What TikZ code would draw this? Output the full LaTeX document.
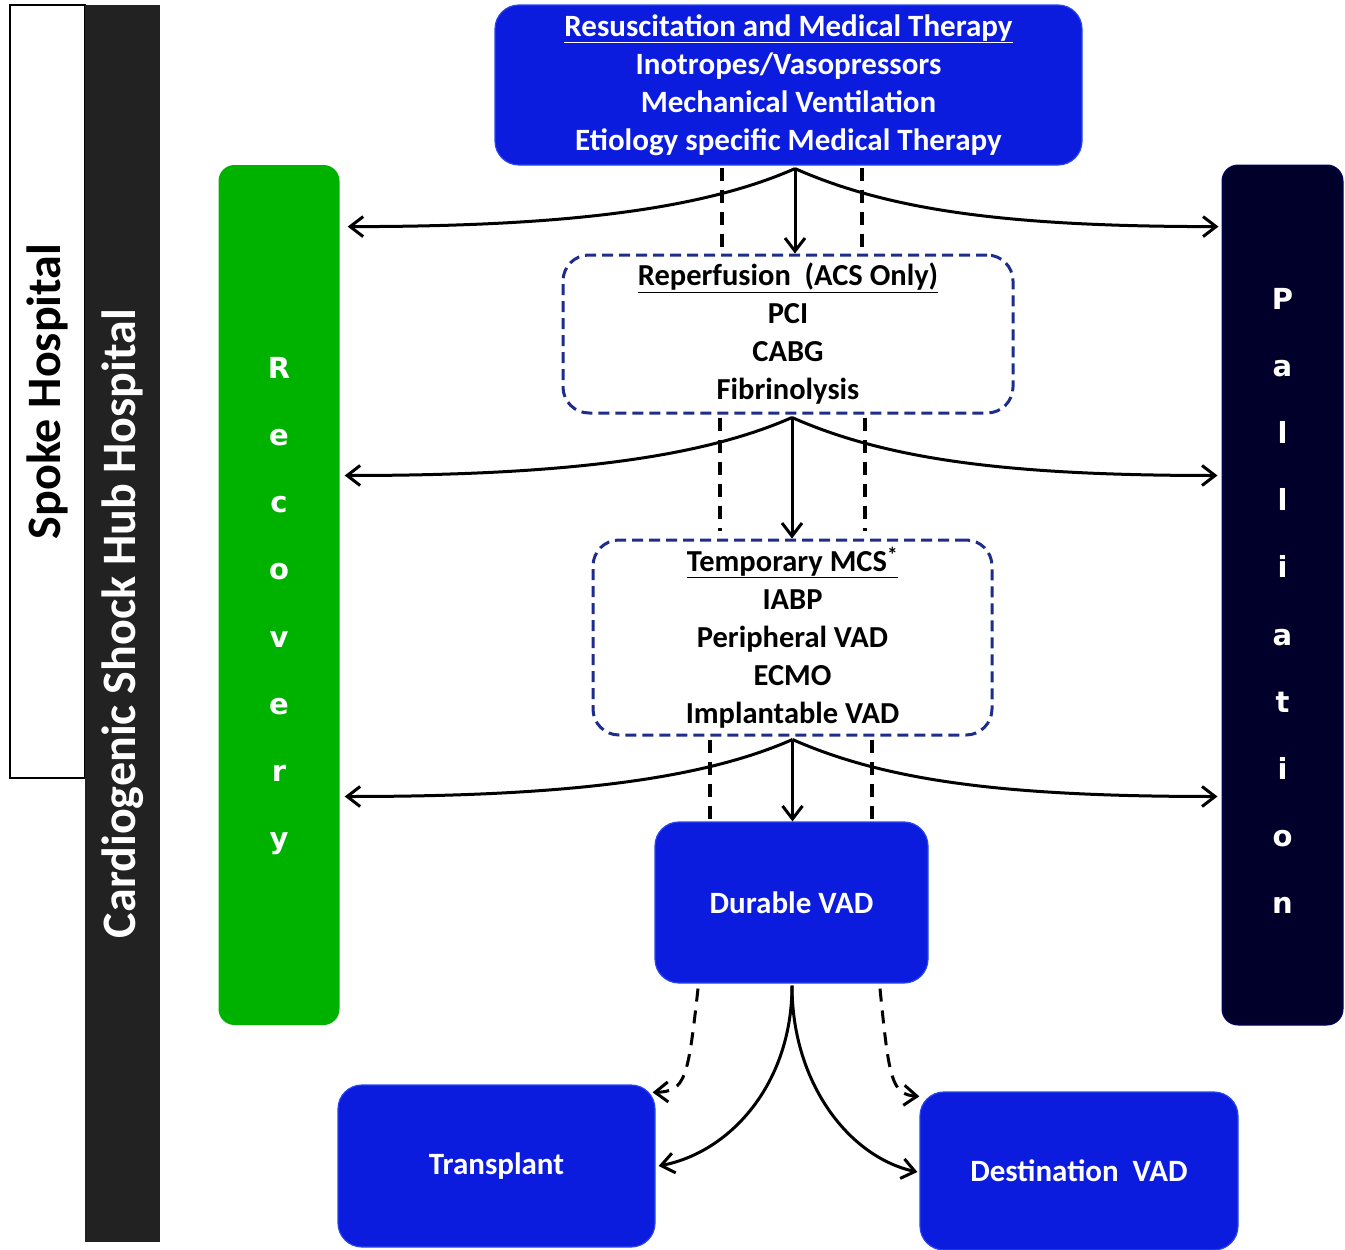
\documentclass[tikz,border=0pt]{standalone}
\usepackage{fontspec}
\setmainfont{Carlito}
\newfontfamily\vfont{DejaVu Sans}
\usetikzlibrary{arrows.meta,calc}
\definecolor{boxblue}{RGB}{12,28,222}
\definecolor{boxedge}{RGB}{40,70,235}
\definecolor{recgreen}{RGB}{0,178,0}
\definecolor{palnavy}{RGB}{0,0,42}
\definecolor{hubgray}{RGB}{34,34,34}
\definecolor{dashblue}{RGB}{30,45,140}
\tikzset{
  bluebox/.style={draw=boxedge, line width=1.2, fill=boxblue, rounded corners=24, text=white, inner sep=0,
    font=\bfseries\fontsize{31}{38}\selectfont, align=center},
  dbox/.style={draw=dashblue, dash pattern=on 11pt off 6pt, line width=3, rounded corners=26, fill=white, inner sep=0,
    font=\bfseries\fontsize{30.5}{38}\selectfont, align=center},
  barbox/.style={rounded corners=16, inner sep=0, minimum width=121, minimum height=860},
  bartext/.style={inner sep=0, text=white, align=center, font=\vfont\bfseries\fontsize{29}{67.2}\selectfont},
  sidebox/.style={rotate=90, inner sep=0, font=\bfseries\fontsize{48}{50}\selectfont},
  arr/.style={line width=3, -{Straight Barb[length=13pt,width=20pt]}},
  vdash/.style={line width=3.5, dash pattern=on 13pt off 9pt},
}
\begin{document}
\begin{tikzpicture}[x=1pt,y=-1pt]
\useasboundingbox (0,0) rectangle (1345,1250);
% side bars
\node[sidebox, draw=black, line width=2, fill=white, minimum width=773, minimum height=75] (spoke) at (47.5,391.5) {Spoke Hospital};
\node[sidebox, fill=hubgray, text=white, minimum width=1237, minimum height=75] (hub) at (122.5,623.5) {Cardiogenic Shock Hub Hospital};
\node[barbox, fill=recgreen] (recovery) at (279,595) {};
\node[bartext] (rectext) at (279,606) {R\\e\\c\\o\\v\\e\\r\\y};
\node[barbox, fill=palnavy, draw=palnavy!70!blue, line width=1] (palliation) at (1282.5,595) {};
\node[bartext] (paltext) at (1282.5,601) {P\\a\\l\\l\\i\\a\\t\\i\\o\\n};
% main boxes
\node[bluebox, minimum width=587, minimum height=160] (top) at (788.5,85)
  {\underline{Resuscitation and Medical Therapy}\\Inotropes/Vasopressors\\Mechanical Ventilation\\Etiology specific Medical Therapy};
\node[dbox, minimum width=450, minimum height=158] (reperf) at (788,334)
  {\underline{Reperfusion\ \ (ACS Only)}\\PCI\\CABG\\Fibrinolysis};
\node[dbox, minimum width=399, minimum height=195] (mcs) at (792.5,637.5)
  {\underline{Temporary MCS\textsuperscript{*}}\\IABP\\Peripheral VAD\\ECMO\\Implantable VAD};
\node[bluebox, minimum width=273, minimum height=161] (durable) at (791.5,902.5) {Durable VAD};
\node[bluebox, minimum width=317, minimum height=162] (transplant) at (496.5,1166) {Transplant};
\node[bluebox, minimum width=318, minimum height=158] (dest) at (1079,1171) {Destination\ \ VAD};
% apex points
\coordinate (a1) at ($(top.south)+(6.5,3)$);
\coordinate (a2) at ($(reperf.south)+(4,3)$);
\coordinate (a3) at ($(mcs.south)+(0,3)$);
\coordinate (l1) at ($(recovery.east |- a1)+(8,58)$);
\coordinate (r1) at ($(palliation.west |- a1)+(-3,58)$);
\coordinate (l2) at ($(recovery.east |- a2)+(5,58)$);
\coordinate (r2) at ($(palliation.west |- a2)+(-4,58)$);
\coordinate (l3) at ($(recovery.east |- a3)+(5,57)$);
\coordinate (r3) at ($(palliation.west |- a3)+(-4,57)$);
% dashed verticals
\draw[vdash] ($(top.south)+(-66.5,2)$) -- ($(reperf.north)+(-66,-3)$);
\draw[vdash] ($(top.south)+(73.5,2)$) -- ($(reperf.north)+(74,-3)$);
\draw[vdash] ($(reperf.south)+(-68,3)$) -- ($(mcs.north)+(-72.5,-8)$);
\draw[vdash] ($(reperf.south)+(77,3)$) -- ($(mcs.north)+(72.5,-8)$);
\draw[vdash] ($(mcs.south)+(-82.5,3)$) -- ($(durable.north)+(-81.5,0)$);
\draw[vdash] ($(mcs.south)+(79.5,3)$) -- ($(durable.north)+(80.5,0)$);
% level arrows
\foreach \i/\t in {1/reperf,2/mcs,3/durable}{
  \draw[arr] (a\i) -- (a\i |- \t.north);
  \draw[arr] (a\i) .. controls ($(a\i)+(-95,42)$) and ($(l\i)+(210,0)$) .. (l\i);
  \draw[arr] (a\i) .. controls ($(a\i)+(95,42)$) and ($(r\i)+(-210,0)$) .. (r\i);
}
% bottom connectors
\draw[arr] ($(durable.south)+(0.5,2)$) .. controls ($(durable.south)+(0.5,100)$) and ($(transplant.east)+(75,-14)$) .. ($(transplant.east)+(3,0)$);
\draw[arr] ($(durable.south)+(0.5,2)$) .. controls ($(durable.south)+(0.5,100)$) and ($(dest.west)+(-70,-14)$) .. ($(dest.west)+(-2,1)$);
\draw[vdash, arr] ($(durable.south)+(-93.5,5)$) .. controls ($(durable.south)+(-103.5,95)$) and ($(transplant.north east)+(30,7)$) .. ($(transplant.north east)+(-3,8)$);
\draw[vdash, arr] ($(durable.south)+(88.5,5)$) .. controls ($(durable.south)+(97.5,95)$) and ($(dest.north west)+(-28,3)$) .. ($(dest.north west)+(0,5)$);
\end{tikzpicture}
\end{document}
